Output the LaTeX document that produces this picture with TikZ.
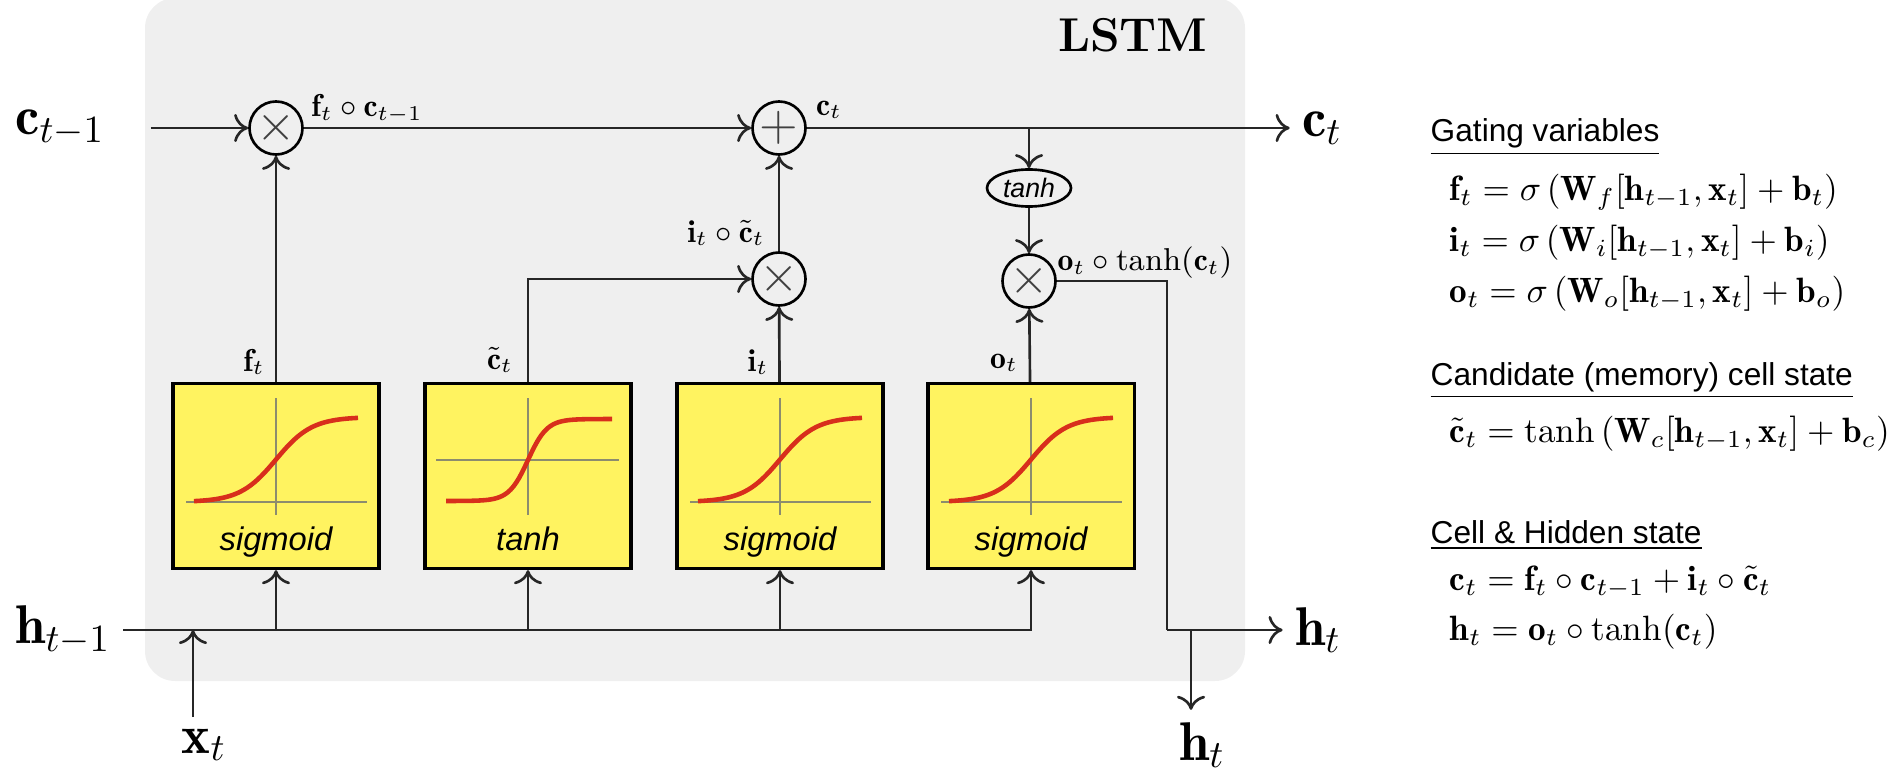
\documentclass[tikz,border=0pt]{standalone}
\usepackage{amsmath}
\usepackage{amssymb}
\usepackage{fontspec}
\setsansfont{Liberation Sans}
\usepackage{tikz}
\usetikzlibrary{shapes.geometric}
\usetikzlibrary{positioning}
\usetikzlibrary{arrows.meta}
\definecolor{cellgrey}{RGB}{239,239,239}
\definecolor{gateyellow}{RGB}{255,243,96}
\definecolor{curvered}{RGB}{216,46,28}
\definecolor{axisgrey}{RGB}{140,140,110}
\tikzset{
>={To[length=4pt, width=8pt]},
wire/.style={line width=0.75pt, color=black!85},
gate_box/.style={rectangle, draw, line width=0.9pt, fill=gateyellow, minimum width=2.06cm, minimum height=1.85cm, inner sep=0},
gate_text/.style={font=\sffamily\itshape\fontsize{9.3}{10}\selectfont, inner sep=1pt},
op_circle/.style={circle, draw, line width=0.75pt, fill=cellgrey, minimum size=0.53cm, inner sep=0, text=black!75, font=\fontsize{14}{14}\selectfont},
act_oval/.style={ellipse, draw, line width=0.75pt, fill=cellgrey, minimum width=0.84cm, minimum height=0.37cm, inner sep=0, font=\sffamily\itshape\fontsize{7.6}{8}\selectfont},
big_label/.style={font=\fontsize{15.5}{17}\selectfont},
small_label/.style={font=\fontsize{9}{10}\selectfont, inner sep=1pt},
axis_line/.style={line width=0.5pt, color=axisgrey},
act_curve/.style={line width=1.3pt, color=curvered},
eq_head/.style={anchor=base west, font=\sffamily\fontsize{9}{10}\selectfont, inner sep=0},
eq_line/.style={anchor=base west, inner sep=0}
}

\begin{document}
\begin{tikzpicture}[x=0.01cm, y=-0.01cm]
    \useasboundingbox (0,0) rectangle (1898,782);
    \fill[cellgrey, rounded corners=0.3cm] (145,-2) rectangle (1245,681);
    \node[anchor=base east, font=\fontsize{13.5}{15}\selectfont\bfseries] (title) at (1220,52) {LSTM};

    % gates
    \node[gate_box] (f_gate) at (276,476) {};
    \node[gate_box] (g_gate) at (528,476) {};
    \node[gate_box] (i_gate) at (780,476) {};
    \node[gate_box] (o_gate) at (1031,476) {};
    \foreach \cx in {276,780,1031} {
        \draw[axis_line] (\cx,398) -- (\cx,515);
        \draw[axis_line] (\cx-90,502) -- (\cx+91,502);
        \draw[act_curve] plot[domain=-82:82, samples=60] ({\cx+\x}, {502-85/(1+exp(-\x/18))});
    }
    \draw[axis_line] (528,398) -- (528,515);
    \draw[axis_line] (436,460) -- (619,460);
    \draw[act_curve] plot[domain=-82:84, samples=60] ({528+\x}, {460-41*tanh(\x/19)});
    \node[gate_text, anchor=base] (f_name) at (276,550) {sigmoid};
    \node[gate_text, anchor=base] (g_name) at (528,550) {tanh};
    \node[gate_text, anchor=base] (i_name) at (780,550) {sigmoid};
    \node[gate_text, anchor=base] (o_name) at (1031,550) {sigmoid};

    % pointwise operations
    \node[op_circle] (f_mult) at (276,128) {$\times$};
    \node[op_circle] (c_add) at (779,128) {$+$};
    \node[op_circle] (i_mult) at (779,279) {$\times$};
    \node[act_oval] (o_tanh) at (1029,188) {tanh};
    \node[op_circle] (o_mult) at (1029,281) {$\times$};

    % inputs and outputs
    \node[big_label] (c_prev) at (60,128) {$\mathbf{c}_{t-1}$};
    \node[big_label] (h_prev) at (63,630) {$\mathbf{h}_{t-1}$};
    \node[big_label] (x_in) at (204,745) {$\mathbf{x}_t$};
    \node[big_label] (c_out) at (1322,128) {$\mathbf{c}_t$};
    \node[big_label] (h_out) at (1318,630) {$\mathbf{h}_t$};
    \node[big_label] (h_down) at (1202,745) {$\mathbf{h}_t$};
    \coordinate (x_join) at (193,630);
    \coordinate (x_tail) at (193,717);
    \coordinate (h_split) at (1167,630);
    \coordinate (h_tap) at (1191,630);

    % connectors
    \draw[wire, ->, shorten <=0.34cm] (c_prev) -- (f_mult);
    \draw[wire, ->] (f_mult) -- (c_add);
    \draw[wire, ->] (c_add) -- (c_out);
    \draw[wire, ->] (c_add -| o_tanh) -- (o_tanh);
    \draw[wire, ->] (o_tanh) -- (o_mult);
    \draw[wire, ->] (i_mult) -- (c_add);
    \draw[wire, ->] (f_gate) -- (f_mult);
    \draw[wire, ->] (g_gate.north) |- (i_mult);
    \draw[wire, ->] (i_gate) -- (i_mult);
    \draw[wire, ->] (o_gate) -- (o_mult);
    \draw[wire, ->] (h_prev) -| (o_gate);
    \draw[wire, ->] (f_gate.south |- h_prev) -- (f_gate);
    \draw[wire, ->] (g_gate.south |- h_prev) -- (g_gate);
    \draw[wire, ->] (i_gate.south |- h_prev) -- (i_gate);
    \draw[wire, ->] (x_tail) -- (x_join);
    \draw[wire] (o_mult) -| (h_split);
    \draw[wire, ->] (h_split) -- (h_out);
    \draw[wire, ->] (h_tap) -- (h_tap |- h_down.north);

    % labels
    \node[small_label] (fc_label) at (367,109) {$\mathbf{f}_t \circ \mathbf{c}_{t-1}$};
    \node[small_label] (c_label) at (829,110) {$\mathbf{c}_t$};
    \node[small_label] (ig_label) at (726,233) {$\mathbf{i}_t \circ \tilde{\mathbf{c}}_t$};
    \node[small_label] (oh_label) at (1145,263) {$\mathbf{o}_t \circ \tanh(\mathbf{c}_t)$};
    \node[small_label] (f_label) at (254,362) {$\mathbf{f}_t$};
    \node[small_label] (g_label) at (500,360) {$\tilde{\mathbf{c}}_t$};
    \node[small_label] (i_label) at (758,362) {$\mathbf{i}_t$};
    \node[small_label] (o_label) at (1004,363) {$\mathbf{o}_t$};

    % equations
    \node[eq_head] (gate_head) at (1430,142) {\underline{Gating variables}};
    \node[eq_line] (f_eq) at (1449,200) {$\mathbf{f}_t = \sigma\left(\mathbf{W}_f[\mathbf{h}_{t-1},\mathbf{x}_t] + \mathbf{b}_t\right)$};
    \node[eq_line] (i_eq) at (1449,251) {$\mathbf{i}_t = \sigma\left(\mathbf{W}_i[\mathbf{h}_{t-1},\mathbf{x}_t] + \mathbf{b}_i\right)$};
    \node[eq_line] (o_eq) at (1449,302) {$\mathbf{o}_t = \sigma\left(\mathbf{W}_o[\mathbf{h}_{t-1},\mathbf{x}_t] + \mathbf{b}_o\right)$};
    \node[eq_head] (cand_head) at (1430,385) {\underline{Candidate (memory) cell state}};
    \node[eq_line] (g_eq) at (1449,442) {$\tilde{\mathbf{c}}_t = \tanh\left(\mathbf{W}_c[\mathbf{h}_{t-1},\mathbf{x}_t] + \mathbf{b}_c\right)$};
    \node[eq_head] (state_head) at (1430,543) {\underline{Cell \& Hidden state}};
    \node[eq_line] (c_eq) at (1449,590) {$\mathbf{c}_t = \mathbf{f}_t \circ \mathbf{c}_{t-1} + \mathbf{i}_t \circ \tilde{\mathbf{c}}_t$};
    \node[eq_line] (h_eq) at (1449,640) {$\mathbf{h}_t = \mathbf{o}_t \circ \tanh(\mathbf{c}_t)$};
\end{tikzpicture}
\end{document}
